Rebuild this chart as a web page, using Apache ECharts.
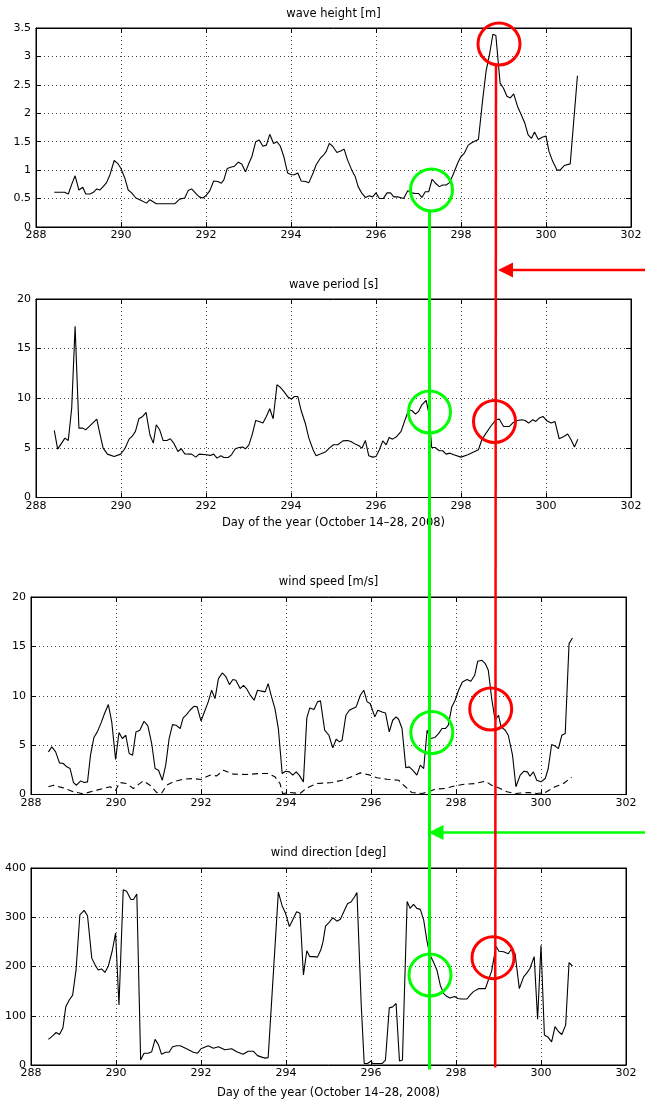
<!DOCTYPE html>
<html>
<head>
<meta charset="utf-8">
<script src="https://cdn.jsdelivr.net/npm/echarts@6/dist/echarts.min.js"></script>
<style>
  html, body { margin: 0; padding: 0; background: #fff; }
  #chart { width: 645px; height: 1104px; }
</style>
</head>
<body>
<div id="chart"></div>
<script>
// Buoy / wind record, day of year 288-302 (October 14-28, 2008)
const dayMin = 288, dayMax = 302, dayStep = 2;

const panelTitles = ['wave height [m]', 'wave period [s]', 'wind speed [m/s]', 'wind direction [deg]'];
const xAxisTitle = 'Day of the year (October 14\u201328, 2008)';

// [day, metres]
const waveHeight = [
  [288.43,0.61],[288.67,0.61],[288.76,0.58],[288.84,0.75],[288.92,0.90],[289.01,0.65],[289.10,0.70],[289.17,0.58],
  [289.27,0.58],[289.35,0.61],[289.43,0.67],[289.50,0.65],[289.58,0.71],[289.66,0.78],[289.74,0.92],[289.84,1.17],
  [289.92,1.12],[290.00,1.03],[290.09,0.86],[290.17,0.65],[290.25,0.60],[290.35,0.51],[290.44,0.48],[290.60,0.42],
  [290.68,0.48],[290.83,0.41],[291.27,0.41],[291.38,0.49],[291.50,0.51],[291.58,0.64],[291.66,0.67],[291.76,0.59],
  [291.84,0.53],[291.93,0.51],[292.01,0.56],[292.09,0.64],[292.18,0.81],[292.28,0.80],[292.36,0.77],[292.42,0.83],
  [292.50,1.03],[292.58,1.05],[292.67,1.07],[292.76,1.14],[292.84,1.11],[292.93,0.97],[293.01,1.12],[293.08,1.24],
  [293.17,1.50],[293.25,1.53],[293.34,1.42],[293.42,1.44],[293.50,1.63],[293.59,1.47],[293.67,1.50],[293.75,1.42],
  [293.83,1.24],[293.92,0.95],[294.01,0.92],[294.08,0.92],[294.16,0.95],[294.24,0.81],[294.34,0.80],[294.42,0.78],
  [294.52,0.95],[294.59,1.09],[294.69,1.21],[294.77,1.27],[294.83,1.33],[294.90,1.47],[294.98,1.42],[295.08,1.31],
  [295.18,1.34],[295.25,1.37],[295.33,1.18],[295.43,1.00],[295.51,0.89],[295.58,0.71],[295.67,0.59],[295.75,0.52],
  [295.84,0.55],[295.92,0.53],[296.00,0.60],[296.08,0.50],[296.17,0.50],[296.26,0.60],[296.34,0.60],[296.42,0.53],
  [296.51,0.53],[296.57,0.52],[296.65,0.50],[296.75,0.64],[296.84,0.60],[296.93,0.59],[297.00,0.59],[297.08,0.52],
  [297.16,0.62],[297.24,0.62],[297.32,0.84],[297.40,0.77],[297.49,0.71],[297.57,0.74],[297.65,0.74],[297.73,0.78],
  [297.83,0.95],[297.92,1.12],[298.00,1.24],[298.08,1.30],[298.17,1.44],[298.27,1.49],[298.41,1.54],[298.51,2.24],
  [298.59,2.74],[298.67,3.03],[298.75,3.39],[298.82,3.37],[298.92,2.53],[299.00,2.44],[299.08,2.30],[299.16,2.27],
  [299.24,2.34],[299.33,2.12],[299.42,1.97],[299.50,1.83],[299.58,1.62],[299.66,1.56],[299.73,1.67],[299.82,1.54],
  [299.91,1.58],[300.00,1.60],[300.07,1.33],[300.16,1.15],[300.26,1.00],[300.33,1.00],[300.43,1.08],[300.57,1.11],
  [300.74,2.66]
];

// [day, seconds]
const wavePeriod = [
  [288.43,6.76],[288.51,4.87],[288.68,5.98],[288.76,5.75],[288.84,9.00],[288.92,17.24],[289.01,6.99],[289.10,6.99],
  [289.17,6.82],[289.43,7.90],[289.50,6.49],[289.58,4.97],[289.68,4.37],[289.84,4.13],[289.99,4.37],[290.09,4.91],
  [290.19,5.88],[290.26,6.15],[290.34,6.66],[290.42,7.93],[290.51,8.17],[290.59,8.57],[290.68,6.32],[290.76,5.48],
  [290.83,7.33],[290.91,6.82],[290.99,5.75],[291.08,5.75],[291.16,5.92],[291.24,5.48],[291.34,4.64],[291.42,4.91],
  [291.50,4.40],[291.66,4.37],[291.76,4.07],[291.84,4.37],[292.01,4.30],[292.10,4.24],[292.18,4.37],[292.26,3.97],
  [292.35,4.20],[292.42,4.03],[292.52,4.03],[292.60,4.30],[292.69,4.91],[292.78,5.04],[292.86,5.08],[292.93,4.91],
  [293.01,5.31],[293.09,6.39],[293.17,7.76],[293.25,7.66],[293.34,7.50],[293.42,8.17],[293.50,8.94],[293.58,7.93],
  [293.67,11.36],[293.75,11.09],[293.83,10.69],[293.93,10.12],[294.01,9.92],[294.08,10.18],[294.16,10.18],[294.24,8.74],
  [294.34,7.43],[294.42,5.98],[294.52,4.81],[294.59,4.20],[294.69,4.38],[294.82,4.62],[294.90,4.97],[295.00,5.31],
  [295.10,5.31],[295.22,5.71],[295.33,5.75],[295.41,5.65],[295.51,5.38],[295.59,5.24],[295.67,4.97],[295.75,5.75],
  [295.83,4.20],[295.92,4.07],[296.00,4.13],[296.08,4.81],[296.16,5.71],[296.24,5.31],[296.31,6.05],[296.39,5.88],
  [296.49,6.15],[296.59,6.66],[296.67,7.66],[296.77,8.84],[296.85,8.74],[296.93,8.40],[297.00,8.67],[297.08,9.34],
  [297.18,9.78],[297.25,8.34],[297.31,5.04],[297.39,5.04],[297.49,4.71],[297.57,4.71],[297.65,4.37],[297.74,4.47],
  [297.83,4.30],[298.00,4.07],[298.16,4.30],[298.41,4.81],[298.49,5.82],[298.59,6.49],[298.71,7.23],[298.82,7.83],
  [298.90,7.90],[299.00,7.16],[299.14,7.16],[299.23,7.56],[299.33,7.76],[299.43,7.83],[299.51,7.76],[299.59,7.50],
  [299.69,7.83],[299.76,7.66],[299.84,8.00],[299.93,8.17],[300.02,7.73],[300.12,7.50],[300.21,7.66],[300.31,5.92],
  [300.42,6.15],[300.51,6.39],[300.59,5.82],[300.67,5.08],[300.75,5.88]
];

// [day, m/s]
const windSpeed = [
  [288.41,4.32],[288.49,4.82],[288.58,4.32],[288.67,3.20],[288.76,3.14],[288.84,2.80],[288.92,2.63],[289.00,1.21],
  [289.07,0.94],[289.17,1.38],[289.25,1.21],[289.33,1.28],[289.40,3.98],[289.48,5.77],[289.56,6.34],[289.65,7.25],
  [289.73,8.20],[289.82,9.11],[289.90,7.35],[289.99,3.54],[290.07,6.27],[290.15,5.67],[290.23,6.00],[290.31,4.15],
  [290.39,3.98],[290.47,6.34],[290.56,6.51],[290.66,7.42],[290.75,6.95],[290.84,5.16],[290.92,2.63],[291.00,2.46],
  [291.09,1.45],[291.17,2.97],[291.25,5.67],[291.33,7.08],[291.41,7.02],[291.51,6.68],[291.58,7.76],[291.66,8.09],
  [291.74,8.53],[291.84,8.94],[291.91,8.87],[292.00,7.45],[292.08,8.36],[292.17,9.38],[292.25,10.56],[292.33,9.71],
  [292.41,11.74],[292.50,12.31],[292.58,11.97],[292.67,11.13],[292.75,11.64],[292.82,11.57],[292.92,10.73],[293.00,11.06],
  [293.07,10.73],[293.15,10.12],[293.25,9.54],[293.33,10.56],[293.40,10.49],[293.51,10.39],[293.58,11.23],[293.66,9.88],
  [293.74,8.70],[293.82,6.68],[293.91,2.12],[293.99,2.36],[294.08,2.29],[294.16,1.96],[294.24,2.29],[294.31,1.96],
  [294.41,1.28],[294.49,7.76],[294.56,8.77],[294.66,8.60],[294.74,9.38],[294.81,9.50],[294.91,6.51],[295.01,6.00],
  [295.10,4.72],[295.18,5.60],[295.26,5.33],[295.32,5.50],[295.41,8.03],[295.49,8.53],[295.57,8.70],[295.65,8.87],
  [295.75,10.05],[295.83,10.56],[295.91,9.38],[295.98,9.21],[296.09,7.86],[296.16,8.53],[296.26,8.36],[296.34,8.26],
  [296.43,6.34],[296.51,7.52],[296.59,7.86],[296.65,7.62],[296.73,6.68],[296.82,2.70],[296.90,2.80],[296.98,2.46],
  [297.08,1.96],[297.16,2.97],[297.24,2.63],[297.32,6.51],[297.40,5.67],[297.50,5.77],[297.59,6.17],[297.67,6.68],
  [297.75,6.68],[297.82,7.02],[297.90,8.87],[297.98,9.54],[298.06,10.56],[298.15,11.40],[298.26,11.64],[298.35,11.47],
  [298.44,12.07],[298.51,13.49],[298.61,13.59],[298.69,13.25],[298.76,12.58],[298.84,9.71],[298.92,7.52],[299.00,8.03],
  [299.06,6.85],[299.16,6.51],[299.23,6.00],[299.33,3.98],[299.41,0.78],[299.51,1.96],[299.60,2.36],[299.68,2.29],
  [299.74,1.85],[299.82,2.29],[299.90,1.45],[300.00,1.28],[300.10,1.62],[300.17,2.63],[300.25,5.06],[300.33,4.92],
  [300.41,4.65],[300.49,6.00],[300.57,6.17],[300.66,15.28],[300.74,15.85]
];

// [day, m/s] — dashed companion trace on the wind-speed axes
const windSpeedLow = [
  [288.41,0.78],[288.53,0.94],[288.76,0.67],[289.00,0.27],[289.23,0.07],[289.55,0.44],[289.86,0.78],[289.99,0.44],
  [290.09,1.21],[290.25,1.11],[290.41,0.61],[290.64,1.38],[290.80,0.94],[290.96,0.20],[291.07,0.10],[291.19,0.94],
  [291.35,1.28],[291.58,1.55],[291.82,1.62],[292.00,1.52],[292.21,1.96],[292.37,1.89],[292.53,2.46],[292.76,2.06],
  [293.07,2.02],[293.35,2.12],[293.58,2.12],[293.74,1.79],[293.86,1.11],[293.92,0.10],[294.09,0.20],[294.33,0.10],
  [294.49,0.67],[294.72,1.11],[294.88,1.15],[295.08,1.21],[295.32,1.45],[295.48,1.69],[295.75,2.19],[295.98,1.96],
  [296.14,1.69],[296.38,1.55],[296.65,1.45],[296.77,0.94],[296.96,0.20],[297.20,0.10],[297.35,0.27],[297.51,0.54],
  [297.75,0.61],[297.98,0.88],[298.22,1.05],[298.45,1.11],[298.69,1.35],[298.84,0.94],[299.04,0.61],[299.20,0.27],
  [299.39,0.10],[299.70,0.20],[299.90,0.10],[300.10,0.20],[300.33,0.78],[300.53,1.11],[300.72,1.75]
];

// [day, degrees]
const windDirection = [
  [288.41,52],[288.51,59],[288.59,66],[288.67,62],[288.75,75],[288.82,119],[288.90,132],[288.98,142],
  [289.06,193],[289.15,305],[289.25,314],[289.33,303],[289.43,217],[289.51,203],[289.58,193],[289.66,195],
  [289.74,188],[289.82,201],[289.91,231],[289.99,268],[290.07,122],[290.17,356],[290.25,353],[290.35,336],
  [290.41,336],[290.49,347],[290.58,10],[290.66,24],[290.76,24],[290.84,27],[290.92,52],[291.00,41],
  [291.07,22],[291.17,26],[291.25,26],[291.33,37],[291.43,39],[291.51,39],[291.66,33],[291.82,26],
  [291.92,24],[292.00,33],[292.17,39],[292.29,34],[292.41,37],[292.56,31],[292.72,33],[292.84,27],
  [292.99,22],[293.11,28],[293.23,28],[293.33,19],[293.43,16],[293.51,14],[293.58,15],[293.82,351],
  [293.91,323],[293.99,308],[294.08,281],[294.16,295],[294.25,311],[294.33,308],[294.41,183],[294.49,232],
  [294.56,220],[294.66,220],[294.74,219],[294.82,234],[294.87,250],[294.93,282],[295.01,289],[295.10,299],
  [295.20,292],[295.28,296],[295.36,311],[295.45,328],[295.53,331],[295.61,341],[295.67,350],[295.77,122],
  [295.84,3],[295.92,3],[296.00,8],[296.04,3],[296.14,3],[296.26,3],[296.34,10],[296.43,116],
  [296.51,118],[296.59,125],[296.67,8],[296.74,10],[296.85,332],[296.92,318],[297.00,326],[297.08,318],
  [297.16,316],[297.24,294],[297.32,250],[297.39,223],[297.47,209],[297.55,193],[297.63,162],[297.71,145],
  [297.79,139],[297.86,136],[297.97,139],[298.04,135],[298.12,134],[298.26,134],[298.33,142],[298.41,149],
  [298.53,155],[298.69,155],[298.76,172],[298.84,191],[298.94,241],[299.01,231],[299.12,230],[299.23,226],
  [299.31,236],[299.39,226],[299.49,155],[299.59,179],[299.66,186],[299.74,196],[299.84,220],[299.92,93],
  [300.00,243],[300.08,61],[300.16,57],[300.25,47],[300.33,78],[300.41,68],[300.49,62],[300.58,81],
  [300.66,208],[300.74,201]
];

// value-axis ranges per panel: [min, max, step]
const yRanges = [[0, 3.5, 0.5], [0, 20, 5], [0, 20, 5], [0, 400, 100]];

const FONT = 'DejaVu Sans';
const grids = [
  { left: 36, top: 28,  width: 595, height: 199 },
  { left: 36, top: 299, width: 595, height: 198.5 },
  { left: 31, top: 597, width: 595, height: 197.5 },
  { left: 31, top: 868, width: 595, height: 197 }
];

const dotted = { show: true, lineStyle: { color: '#444', type: [1, 3], width: 1 } };
const axisLine = { show: true, onZero: false, lineStyle: { color: '#000', width: 1 } };
const tick = { show: true, inside: true, length: 5, lineStyle: { color: '#000' } };

const xAxes = [], yAxes = [];
grids.forEach((g, i) => {
  xAxes.push({
    type: 'value', gridIndex: i, min: dayMin, max: dayMax, interval: dayStep, position: 'bottom',
    axisLine, axisTick: tick, splitLine: dotted,
    axisLabel: { color: '#000', fontFamily: FONT, fontSize: 11, margin: 3, showMinLabel: true, showMaxLabel: true }
  });
  xAxes.push({
    type: 'value', gridIndex: i, min: dayMin, max: dayMax, interval: dayStep, position: 'top',
    axisLine, axisTick: tick, splitLine: { show: false }, axisLabel: { show: false }
  });
  const r = yRanges[i];
  yAxes.push({
    type: 'value', gridIndex: i, min: r[0], max: r[1], interval: r[2], position: 'left',
    axisLine, axisTick: tick, splitLine: dotted,
    axisLabel: { color: '#000', fontFamily: FONT, fontSize: 11, margin: 5, showMinLabel: true, showMaxLabel: true }
  });
  yAxes.push({
    type: 'value', gridIndex: i, min: r[0], max: r[1], interval: r[2], position: 'right',
    axisLine, axisTick: tick, splitLine: { show: false }, axisLabel: { show: false }
  });
});

function trace(data, panel, dashed) {
  return {
    type: 'line', data, xAxisIndex: panel * 2, yAxisIndex: panel * 2,
    showSymbol: false, symbol: 'none', silent: true, z: 3,
    lineStyle: { color: '#000', width: 1.1, type: dashed ? [6, 4] : 'solid' }
  };
}

// annotation overlay (pixel space)
const GREEN = '#00ff00', RED = '#ff0000';
function ring(cx, cy, color) {
  return { type: 'circle', shape: { cx, cy, r: 21 }, style: { fill: null, stroke: color, lineWidth: 3 }, z: 100 };
}
function seg(x1, y1, x2, y2, color, w, z) {
  return { type: 'line', shape: { x1, y1, x2, y2 }, style: { stroke: color, lineWidth: w }, z: z || 100 };
}
function head(tipX, y, color) {
  return { type: 'polygon', shape: { points: [[tipX, y], [tipX + 15, y - 7.5], [tipX + 15, y + 7.5]] },
    style: { fill: color }, z: 101 };
}
function label(text, x, y, size) {
  return { type: 'text', x, y, style: { text, fill: '#000', font: size + 'px "' + FONT + '"',
    textAlign: 'center', textVerticalAlign: 'middle' }, z: 50 };
}

const graphics = [
  label(panelTitles[0], 333.5, 14.5, 11.5),
  label(panelTitles[1], 333.5, 285.5, 11.5),
  label(panelTitles[2], 328.5, 582.5, 11.5),
  label(panelTitles[3], 328.5, 853, 11.5),
  label(xAxisTitle, 333.5, 523.5, 11.5),
  label(xAxisTitle, 328.5, 1093, 11.5),
  // green marker: vertical line, arrow and rings
  seg(429.5, 211, 429.5, 1069.5, GREEN, 3),
  seg(645, 832.5, 440, 832.5, GREEN, 2.5),
  head(428.5, 832.5, GREEN),
  ring(431.5, 190, GREEN),
  ring(429.5, 412, GREEN),
  ring(431.8, 732.5, GREEN),
  ring(430, 975, GREEN),
  // red marker
  seg(496, 65, 495.2, 1067.5, RED, 2.5, 102),
  seg(645, 270, 510, 270, RED, 2.5),
  head(498, 270, RED),
  ring(499, 44, RED),
  ring(494.5, 421.5, RED),
  ring(490.7, 709, RED),
  ring(493, 957.7, RED)
];

const chart = echarts.init(document.getElementById('chart'), null, { renderer: 'canvas' });
chart.setOption({
  animation: false,
  backgroundColor: '#fff',
  grid: grids.map(g => Object.assign({ show: true, borderColor: '#000', borderWidth: 1, backgroundColor: 'transparent' }, g)),
  xAxis: xAxes,
  yAxis: yAxes,
  series: [
    trace(waveHeight, 0),
    trace(wavePeriod, 1),
    trace(windSpeed, 2),
    trace(windSpeedLow, 2, true),
    trace(windDirection, 3)
  ],
  graphic: graphics
});
</script>
</body>
</html>
